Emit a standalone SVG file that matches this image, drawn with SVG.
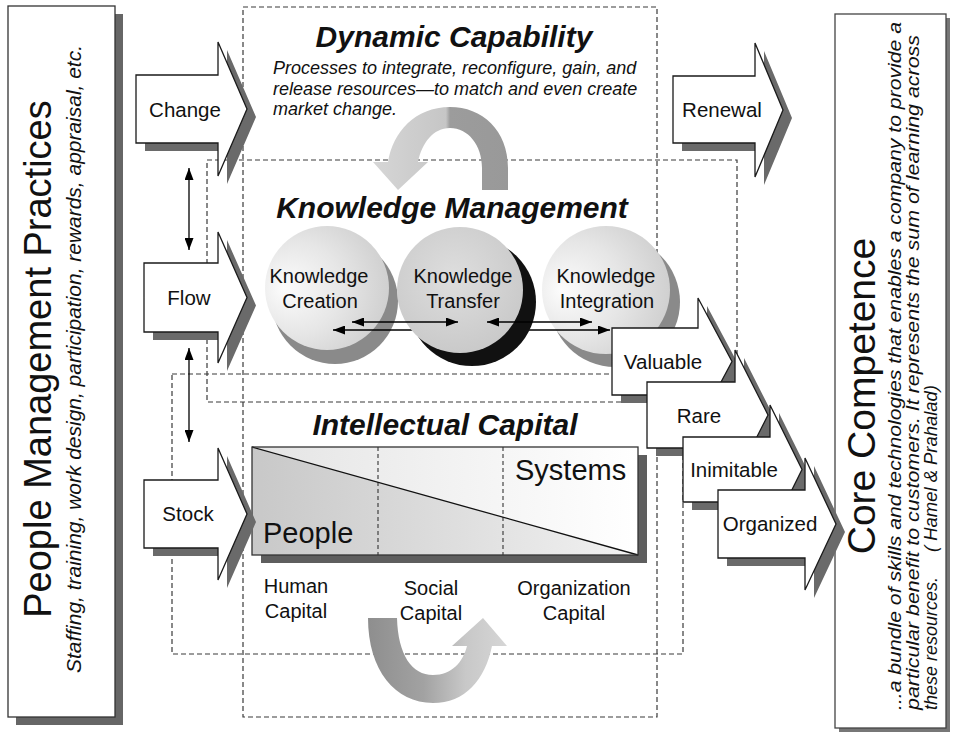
<svg xmlns="http://www.w3.org/2000/svg" width="955" height="739" viewBox="0 0 955 739">
<defs>
<style>
text{font-family:"Liberation Sans",Arial,sans-serif;fill:#111}
.dash{fill:none;stroke:#3a3a3a;stroke-width:1.2;stroke-dasharray:5 3}
.blk{fill:#fff;stroke:#1a1a1a;stroke-width:1.3}
.shd{fill:#6a6a6a}
.lbl{font-size:20.5px;text-anchor:middle}
.ttl{font-size:30px;font-weight:bold;font-style:italic;text-anchor:middle}
.sub{font-size:20px;text-anchor:middle}
.con{stroke:#000;stroke-width:1.3;fill:none;marker-start:url(#ah);marker-end:url(#ah)}
</style>
<marker id="ah" viewBox="0 0 12 9" refX="12" refY="4.5" markerWidth="12" markerHeight="9" markerUnits="userSpaceOnUse" orient="auto-start-reverse"><path d="M0 0L12 4.5L0 9Z" fill="#000"/></marker>
<linearGradient id="arcTop" gradientUnits="userSpaceOnUse" x1="373" y1="0" x2="508" y2="0"><stop offset="0" stop-color="#d6d6d6"/><stop offset="0.54" stop-color="#c6c6c6"/><stop offset="0.57" stop-color="#9c9c9c"/><stop offset="1" stop-color="#999"/></linearGradient>
<linearGradient id="arcBot" gradientUnits="userSpaceOnUse" x1="368" y1="0" x2="507" y2="0"><stop offset="0" stop-color="#8e8e8e"/><stop offset="0.4" stop-color="#a2a2a2"/><stop offset="0.7" stop-color="#c8c8c8"/><stop offset="1" stop-color="#d6d6d6"/></linearGradient>
<radialGradient id="sph" cx="0.35" cy="0.5" r="0.75" fx="0.15" fy="0.5"><stop offset="0" stop-color="#fcfcfc"/><stop offset="0.5" stop-color="#e6e6e6"/><stop offset="1" stop-color="#cacaca"/></radialGradient>
<radialGradient id="sph2" cx="0.45" cy="0.4" r="0.65"><stop offset="0" stop-color="#dedede"/><stop offset="1" stop-color="#c8c8c8"/></radialGradient>
<linearGradient id="icUp" gradientUnits="userSpaceOnUse" x1="252" y1="0" x2="638" y2="0"><stop offset="0" stop-color="#e4e4e4"/><stop offset="1" stop-color="#ffffff"/></linearGradient>
<linearGradient id="icLo" gradientUnits="userSpaceOnUse" x1="252" y1="0" x2="638" y2="0"><stop offset="0" stop-color="#c8c8c8"/><stop offset="1" stop-color="#f2f2f2"/></linearGradient>
<path id="pChange" d="M136 75L218 75L218 42L247 109L218 176L218 143L136 143Z"/>
<path id="pFlow" d="M144 263L218 263L218 232L247 297.5L218 363L218 332L144 332Z"/>
<path id="pStock" d="M144 480L218 480L218 448L247 514L218 580L218 548L144 548Z"/>
<path id="pRenewal" d="M673 76L755 76L755 43L783 110L755 177L755 143L673 143Z"/>
<path id="pValuable" d="M612 328L698 328L698 298L732 361.5L698 425L698 395L612 395Z"/>
<path id="pRare" d="M647 382L735 382L735 350L768 415L735 480L735 448L647 448Z"/>
<path id="pInimitable" d="M683 437L770 437L770 405L802 469.5L770 534L770 502L683 502Z"/>
<path id="pOrganized" d="M718 490L805 490L805 458L836 524L805 590L805 558L718 558Z"/>
</defs>
<rect width="955" height="739" fill="#fff"/>

<g id="frames">
<rect class="dash" x="243" y="7" width="414" height="710"/>
<rect class="dash" x="207" y="160" width="530" height="242"/>
<rect class="dash" x="172" y="374" width="511" height="280"/>
</g>

<g id="people-management">
<rect x="16" y="14" width="107" height="711" fill="#666"/>
<rect x="8" y="6" width="107" height="711" fill="#fff" stroke="#333" stroke-width="1.3"/>
<text transform="translate(51,359) rotate(-90)" text-anchor="middle" font-size="38">People Management Practices</text>
<text transform="translate(81,359) rotate(-90)" text-anchor="middle" font-size="20.5" font-style="italic" textLength="628" lengthAdjust="spacingAndGlyphs">Staffing, training, work design, participation, rewards, appraisal, etc.</text>
</g>

<g id="core-competence">
<rect x="839" y="18" width="111" height="714" fill="#777"/>
<rect x="835" y="14" width="111" height="714" fill="#fff" stroke="#444" stroke-width="1.3"/>
<text transform="translate(875,396) rotate(-90)" text-anchor="middle" font-size="39">Core Competence</text>
<text transform="translate(901,710) rotate(-90)" font-size="18" font-style="italic" textLength="688" lengthAdjust="spacingAndGlyphs">...a bundle of skills and technologies that enables a company to provide a</text>
<text transform="translate(919,710) rotate(-90)" font-size="18" font-style="italic" textLength="675" lengthAdjust="spacingAndGlyphs">particular benefit to customers. It represents the sum of learning across</text>
<text transform="translate(937,710) rotate(-90)" font-size="18" font-style="italic">these resources.</text>
<text transform="translate(937,552) rotate(-90)" font-size="18" font-style="italic" textLength="167" lengthAdjust="spacingAndGlyphs">( Hamel &amp; Prahalad)</text>
</g>

<g id="dynamic-capability">
<text class="ttl" x="454" y="47">Dynamic Capability</text>
<text x="273" y="74" font-size="18" font-style="italic">Processes to integrate, reconfigure, gain, and</text>
<text x="273" y="94.5" font-size="18" font-style="italic">release resources—to match and even create</text>
<text x="273" y="115" font-size="18" font-style="italic">market change.</text>
<path d="M508 190L508 168C508 130 482 107 450 107C415 107 393 132 388 162L373 162L398 190L428 162L418 162C422 143 433 128 450 128C468 128 482 145 482 168L482 190Z" fill="url(#arcTop)"/>
</g>

<g id="knowledge-management">
<text class="ttl" x="452" y="218">Knowledge Management</text>
</g>

<g id="km-creation">
<circle cx="335" cy="301" r="63" fill="#8a8a8a"/>
<circle cx="327" cy="288" r="62" fill="url(#sph)"/>
<text class="sub" x="319" y="283">Knowledge</text>
<text class="sub" x="320" y="308">Creation</text>
</g>

<g id="km-integration">
<circle cx="615" cy="302" r="65" fill="#8a8a8a"/>
<circle cx="606" cy="290" r="64" fill="url(#sph)"/>
<text class="sub" x="606" y="283">Knowledge</text>
<text class="sub" x="607" y="308">Integration</text>
</g>

<g id="connectors-back">
<path class="con" d="M333 330L610 330"/>
</g>

<g id="km-transfer">
<circle cx="472" cy="302" r="64" fill="#111"/>
<circle cx="460" cy="290" r="63" fill="url(#sph2)"/>
<text class="sub" x="463" y="283">Knowledge</text>
<text class="sub" x="463" y="308">Transfer</text>
</g>

<g id="intellectual-capital">
<text class="ttl" x="445" y="435">Intellectual Capital</text>
<rect x="261" y="455" width="386" height="108" fill="#5e5e5e"/>
<rect x="252" y="447" width="386" height="108" fill="url(#icUp)"/>
<polygon points="252,447 638,555 252,555" fill="url(#icLo)"/>
<line x1="378" y1="447" x2="378" y2="555" stroke="#333" stroke-width="1.1" stroke-dasharray="4 3"/>
<line x1="503" y1="447" x2="503" y2="555" stroke="#333" stroke-width="1.1" stroke-dasharray="4 3"/>
<line x1="252" y1="447" x2="638" y2="555" stroke="#111" stroke-width="1.3"/>
<rect x="252" y="447" width="386" height="108" fill="none" stroke="#333" stroke-width="1.3"/>
<text x="263" y="543" font-size="29">People</text>
<text x="515" y="480" font-size="29">Systems</text>
<text class="sub" x="296" y="593">Human</text>
<text class="sub" x="296" y="618">Capital</text>
<text class="sub" x="431" y="595">Social</text>
<text class="sub" x="431" y="620">Capital</text>
<text class="sub" x="574" y="595">Organization</text>
<text class="sub" x="574" y="620">Capital</text>
<path d="M368 618L397 618C398 655 412 675 433 675C452 675 463 662 467 646L452 646L483 618L507 646L492 646C485 680 465 703 433 703C395 703 368 670 368 618Z" fill="url(#arcBot)"/>
</g>

<g id="change">
<use href="#pChange" class="shd" transform="translate(9,8)"/>
<use href="#pChange" class="blk"/>
<text class="lbl" x="185" y="117">Change</text>
</g>
<g id="flow">
<use href="#pFlow" class="shd" transform="translate(9,8)"/>
<use href="#pFlow" class="blk"/>
<text class="lbl" x="189" y="305">Flow</text>
</g>
<g id="stock">
<use href="#pStock" class="shd" transform="translate(9,8)"/>
<use href="#pStock" class="blk"/>
<text class="lbl" x="188" y="521">Stock</text>
</g>
<g id="renewal">
<use href="#pRenewal" class="shd" transform="translate(9,8)"/>
<use href="#pRenewal" class="blk"/>
<text class="lbl" x="722" y="117">Renewal</text>
</g>
<g id="valuable">
<use href="#pValuable" class="shd" transform="translate(9,8)"/>
<use href="#pValuable" class="blk"/>
<text class="lbl" x="663" y="369">Valuable</text>
</g>
<g id="rare">
<use href="#pRare" class="shd" transform="translate(9,8)"/>
<use href="#pRare" class="blk"/>
<text class="lbl" x="699" y="423">Rare</text>
</g>
<g id="inimitable">
<use href="#pInimitable" class="shd" transform="translate(9,8)"/>
<use href="#pInimitable" class="blk"/>
<text class="lbl" x="734" y="477">Inimitable</text>
</g>
<g id="organized">
<use href="#pOrganized" class="shd" transform="translate(9,8)"/>
<use href="#pOrganized" class="blk"/>
<text class="lbl" x="770" y="531">Organized</text>
</g>

<g id="connectors">
<path class="con" d="M189 168L189 250"/>
<path class="con" d="M189 348L189 442"/>
<path class="con" d="M352 322L458 322"/>
<path class="con" d="M487 322L592 322"/>
</g>
</svg>
